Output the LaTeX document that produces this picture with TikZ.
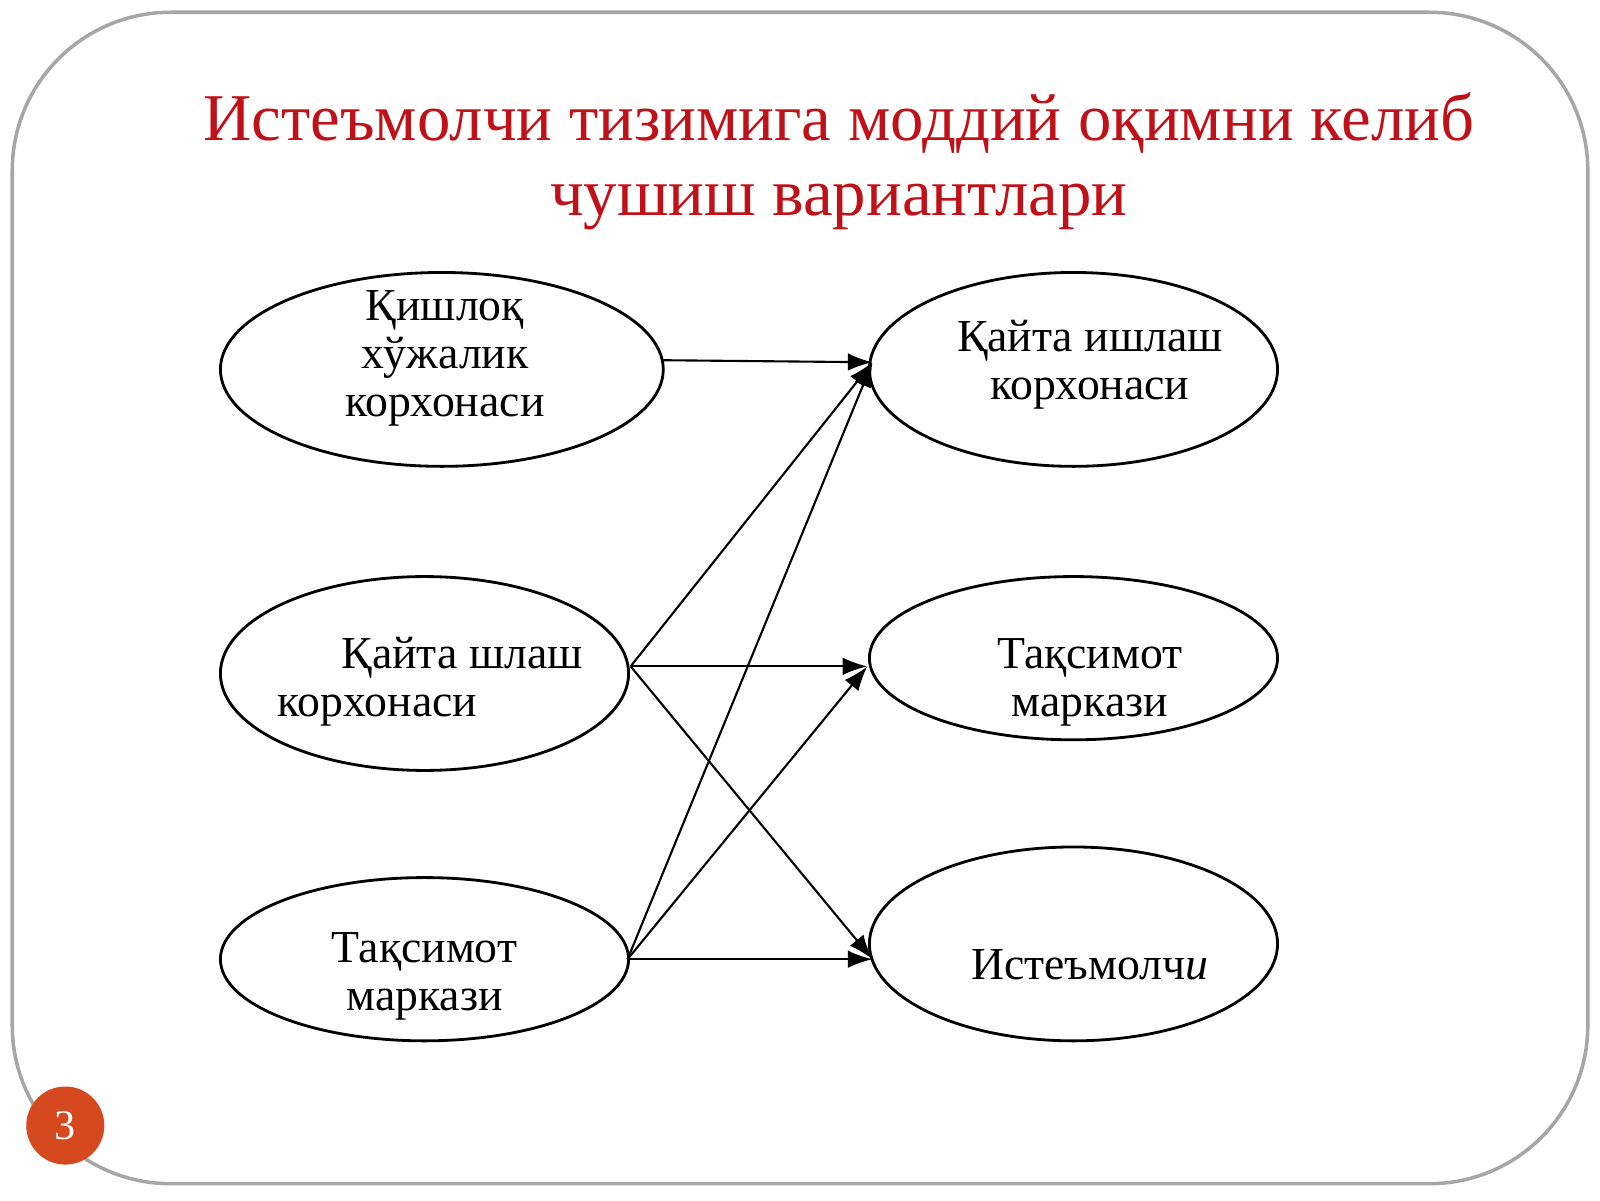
\documentclass[tikz,border=0pt]{standalone}
\usepackage{fontspec}
\setmainfont{Liberation Serif}
\usetikzlibrary{shapes.geometric,arrows.meta}
\definecolor{titlered}{RGB}{192,16,24}
\definecolor{pageorange}{RGB}{214,72,30}
\tikzset{
  blob/.style={draw, ellipse, line width=0.8pt},
  lbl/.style={align=center, font=\fontsize{13}{13.6}\selectfont},
  flow/.style={-{Latex[length=7pt,width=5pt]}, line width=0.6pt}
}
\begin{document}
\begin{tikzpicture}[x=0.0102cm,y=-0.0102cm]
\useasboundingbox (0,0) rectangle (1568,1176);
\draw[gray!70, line width=1pt, rounded corners=45] (12,12) rectangle (1556,1160);
\node[text=titlered, align=center, font=\fontsize{19}{21.5}\selectfont] (title) at (822,158)
  {Истеъмолчи тизимига моддий оқимни келиб\\чушиш вариантлари};
% left column
\draw[blob] (433,362) ellipse (217 and 95);
\draw[blob] (416,660) ellipse (200 and 95);
\draw[blob] (416,940) ellipse (200 and 80);
% right column
\draw[blob] (1052,362) ellipse (200 and 95);
\draw[blob] (1052,645) ellipse (200 and 80);
\draw[blob] (1052,925) ellipse (200 and 95);
\node[lbl] (farm) at (436,351) {Қишлоқ\\хўжалик\\корхонаси};
\node[lbl] (proc) at (426,668) {\hspace*{1.2em}Қайта шлаш\\корхонаси\hspace*{2.5em}};
\node[lbl] (distl) at (416,957) {Тақсимот\\маркази};
\node[lbl] (procr) at (1068,357) {Қайта ишлаш\\корхонаси};
\node[lbl] (distr) at (1068,669) {Тақсимот\\маркази};
\node[lbl] (cons) at (1068,945) {Истеъмолч\textit{и}};
\coordinate (f1) at (650,353);
\coordinate (p1) at (618,653);
\coordinate (d1) at (615,940);
\coordinate (r1) at (855,355);
\coordinate (r2) at (850,653);
\coordinate (r3) at (855,940);
\draw[flow] (f1) -- (r1);
\foreach \t in {r1,r2,r3} \draw[flow] (p1) -- (\t);
\foreach \t in {r1,r2,r3} \draw[flow] (d1) -- (\t);
\node[circle, fill=pageorange, minimum size=0.78cm, text=white, font=\fontsize{12}{14}\selectfont] (page) at (64,1103) {3};
\end{tikzpicture}
\end{document}
